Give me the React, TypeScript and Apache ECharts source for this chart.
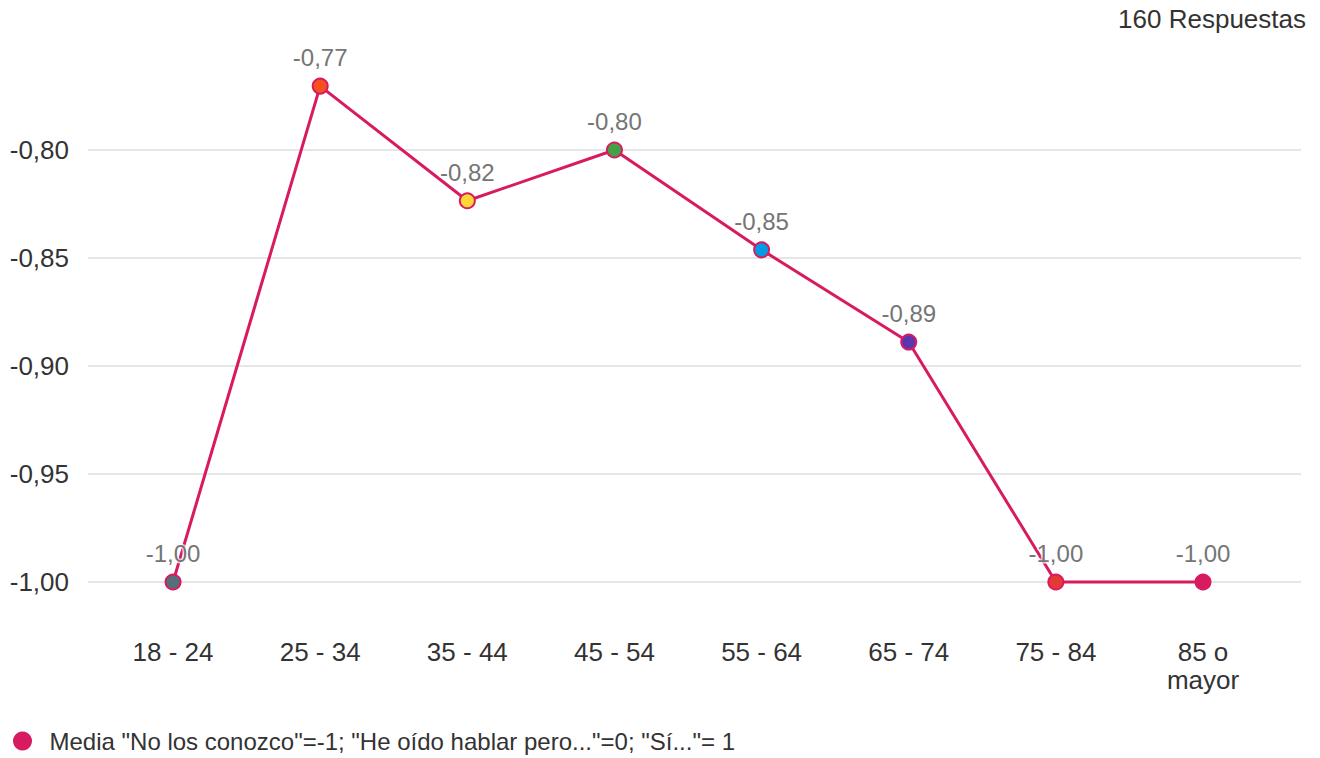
import React, { useEffect, useRef } from "react";
import * as echarts from "echarts";

const categories = ["18 - 24", "25 - 34", "35 - 44", "45 - 54", "55 - 64", "65 - 74", "75 - 84", "85 o\nmayor"];
const values = [-1.0, -0.7704, -0.8235, -0.8, -0.8462, -0.8889, -1.0, -1.0];
const pointColors = ["#546e7a", "#f4511e", "#fdd835", "#43a047", "#039be5", "#5e35b1", "#e53935", "#d81b60"];
const yTicks = [-1.0, -0.95, -0.9, -0.85, -0.8];
const seriesName = 'Media "No los conozco"=-1; "He oído hablar pero..."=0; "Sí..."= 1';
const responsesText = "160 Respuestas";

const FONT = "'Liberation Sans', Arial, sans-serif";
const LINE = "#d81b60";

const fmt = (v: number) => v.toFixed(2).replace(".", ",");

export default function App() {
  const ref = useRef<HTMLDivElement>(null);
  useEffect(() => {
    if (!ref.current) return;
    const chart = echarts.init(ref.current, undefined, { renderer: "svg" });
    const catIdx = categories.map((_, i) => i);
    chart.setOption({
      animation: false,
      backgroundColor: "#ffffff",
      textStyle: { fontFamily: FONT },
      title: {
        text: responsesText,
        right: 9,
        top: 1,
        textStyle: { fontFamily: FONT, fontSize: 26, fontWeight: "normal", color: "#333333" },
      },
      legend: {
        left: 13,
        bottom: 5,
        padding: 0,
        icon: "circle",
        itemWidth: 44,
        itemHeight: 19,
        textStyle: { fontFamily: FONT, fontSize: 24, color: "#333333" },
        data: [{ name: seriesName, itemStyle: { color: LINE, borderWidth: 0 } }],
      },
      grid: { left: 88, right: 19, top: 150, bottom: 176, containLabel: false },
      xAxis: {
        type: "value",
        min: -0.578,
        max: 7.666,
        axisLine: { show: false },
        axisTick: { show: false },
        splitLine: { show: false },
        axisLabel: {
          customValues: catIdx,
          margin: 56,
          fontFamily: FONT,
          fontSize: 26,
          lineHeight: 28,
          color: "#333333",
          formatter: (v: number) => categories[Math.round(v)] ?? "",
        },
      },
      yAxis: {
        type: "value",
        min: yTicks[0],
        max: yTicks[yTicks.length - 1],
        interval: 0.05,
        axisLine: { show: false },
        axisTick: { show: false },
        splitLine: { show: true, lineStyle: { color: "#e6e6e6", width: 2 } },
        axisLabel: {
          margin: 19,
          fontFamily: FONT,
          fontSize: 26,
          color: "#333333",
          formatter: (v: number) => fmt(v),
        },
      },
      series: [
        {
          name: seriesName,
          type: "line",
          clip: false,
          symbol: "circle",
          symbolSize: 15,
          lineStyle: { color: LINE, width: 3 },
          itemStyle: { color: LINE, borderColor: LINE, borderWidth: 2 },
          label: {
            show: true,
            position: "top",
            distance: 8,
            fontFamily: FONT,
            fontSize: 24,
            color: "#757575",
            textBorderColor: "rgba(255,255,255,0.7)",
            textBorderWidth: 3,
            formatter: (p: any) => fmt(p.value[1]),
          },
          data: values.map((v, i) => ({
            value: [i, v],
            itemStyle: { color: pointColors[i], borderColor: LINE, borderWidth: 2 },
          })),
        },
      ],
    });
    return () => chart.dispose();
  }, []);
  return <div ref={ref} style={{ position: "fixed", left: 0, top: 0, width: 1320, height: 758 }} />;
}
